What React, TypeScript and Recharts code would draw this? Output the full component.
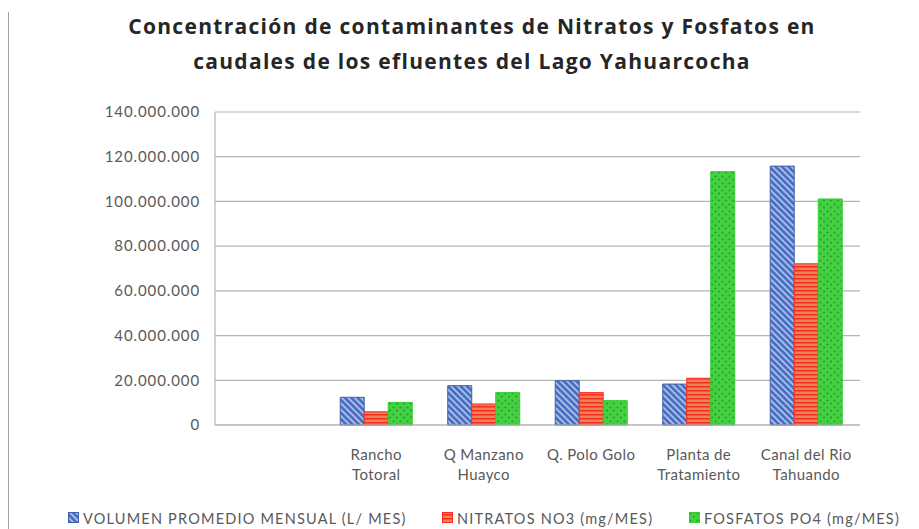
import React from 'react'
import { BarChart, Bar, XAxis, YAxis, CartesianGrid } from 'recharts'

// categorias (la primera vacia, como en la figura original)
const categories = ['', 'Rancho\nTotoral', 'Q Manzano\nHuayco', 'Q. Polo Golo', 'Planta de\nTratamiento', 'Canal del Rio\nTahuando']
const volumen = [null, 12400000, 17600000, 19800000, 18300000, 115800000]
const nitratos = [null, 5900000, 9400000, 14500000, 20900000, 72100000]
const fosfatos = [null, 10100000, 14500000, 10900000, 113300000, 101100000]
const yTicks = [0, 20000000, 40000000, 60000000, 80000000, 100000000, 120000000, 140000000]

const seriesNames = ['VOLUMEN PROMEDIO MENSUAL (L/ MES)', 'NITRATOS NO3 (mg/MES)', 'FOSFATOS PO4 (mg/MES)']

const data = categories.map((c, i) => ({
  name: c,
  volumen: volumen[i],
  nitratos: nitratos[i],
  fosfatos: fosfatos[i],
}))

const FONT = 'Lato, "Open Sans", sans-serif'
const GRID = '#b4b4b4'
const TICK = '#595959'

const fmt = (v: number) => String(v).replace(/\B(?=(\d{3})+(?!\d))/g, '.')

const CategoryTick = ({ x, y, payload }: any) => {
  const lines = String(payload.value).split('\n')
  return (
    <g>
      {lines.map((l, i) => (
        <text
          key={i}
          x={x}
          y={y + 33 + i * 20}
          textAnchor="middle"
          fill={TICK}
          fontSize={15}
          fontFamily={FONT}
          letterSpacing={0.4}
        >
          {l}
        </text>
      ))}
    </g>
  )
}

const Patterns = () => (
  <defs>
    <pattern id="pBlue" width="4.5" height="4.5" patternUnits="userSpaceOnUse" patternTransform="rotate(-45)">
      <rect width="4.5" height="4.5" fill="#4a6fc2" />
      <rect width="1.8" height="4.5" fill="#a9bfea" />
    </pattern>
    <pattern id="pRed" width="4" height="4" patternUnits="userSpaceOnUse">
      <rect width="4" height="4" fill="#e8825c" />
      <rect y="2" width="4" height="1.5" fill="#f52e1c" />
    </pattern>
    <pattern id="pGreen" width="7" height="7" patternUnits="userSpaceOnUse">
      <rect width="7" height="7" fill="#45d043" />
      <circle cx="1.5" cy="1.5" r="1.1" fill="#23a32a" />
      <circle cx="5" cy="4.5" r="1.1" fill="#23a32a" />
    </pattern>
  </defs>
)

const legendItems = [
  { name: seriesNames[0], fill: 'url(#pBlue)', stroke: '#3f5fa8', left: 68 },
  { name: seriesNames[1], fill: 'url(#pRed)', stroke: '#ff2a1a', left: 442 },
  { name: seriesNames[2], fill: 'url(#pGreen)', stroke: '#2fd12f', left: 689 },
]

export default function App() {
  return (
    <div style={{ position: 'fixed', left: 0, top: 0, width: 919, height: 529, background: '#fff', overflow: 'hidden' }}>
      <div style={{ position: 'absolute', left: 8, top: 12, width: 1, height: 517, background: '#a0a0a0' }} />
      <div
        style={{
          position: 'absolute',
          left: 72,
          top: 9,
          width: 800,
          textAlign: 'center',
          fontFamily: '"Open Sans", Lato, sans-serif',
          fontWeight: 700,
          fontSize: 21,
          letterSpacing: 1.3,
          lineHeight: '35px',
          color: '#262626',
        }}
      >
        Concentración de contaminantes de Nitratos y Fosfatos en
        <br />
        caudales de los efluentes del Lago Yahuarcocha
      </div>
      <div style={{ position: 'absolute', left: 0, top: 0 }}>
        <BarChart
          width={919}
          height={529}
          data={data}
          margin={{ top: 112, right: 59, bottom: 44, left: 0 }}
          barCategoryGap="16.5%"
          barGap={0}
        >
          <Patterns />
          <CartesianGrid vertical={false} stroke={GRID} strokeWidth={1.2} />
          <XAxis
            dataKey="name"
            interval={0}
            height={60}
            tick={<CategoryTick />}
            tickLine={false}
            tickSize={0}
            axisLine={{ stroke: GRID, strokeWidth: 1.2 }}
          />
          <YAxis
            width={215}
            domain={[0, 140000000]}
            ticks={yTicks}
            tickFormatter={fmt}
            tickLine={false}
            tickSize={0}
            tickMargin={15}
            axisLine={{ stroke: GRID, strokeWidth: 1.2 }}
            tick={{ fill: TICK, fontSize: 15, fontFamily: FONT, letterSpacing: 0.9 }}
          />
          <Bar dataKey="volumen" name={seriesNames[0]} fill="url(#pBlue)" stroke="#3f5fa8" strokeWidth={1} isAnimationActive={false} />
          <Bar dataKey="nitratos" name={seriesNames[1]} fill="url(#pRed)" stroke="#ff2a1a" strokeWidth={1} isAnimationActive={false} />
          <Bar dataKey="fosfatos" name={seriesNames[2]} fill="url(#pGreen)" stroke="#2fd12f" strokeWidth={1} isAnimationActive={false} />
        </BarChart>
      </div>
      {legendItems.map(it => (
        <div
          key={it.name}
          style={{
            position: 'absolute',
            left: it.left,
            top: 508,
            height: 20,
            display: 'flex',
            alignItems: 'center',
            fontFamily: FONT,
            fontSize: 14.5,
            letterSpacing: 1.2,
            color: TICK,
            whiteSpace: 'nowrap',
          }}
        >
          <svg width={12} height={12} style={{ marginRight: 3 }}>
            <rect x={0.5} y={0.5} width={10} height={10} fill={it.fill} stroke={it.stroke} />
          </svg>
          {it.name}
        </div>
      ))}
    </div>
  )
}
